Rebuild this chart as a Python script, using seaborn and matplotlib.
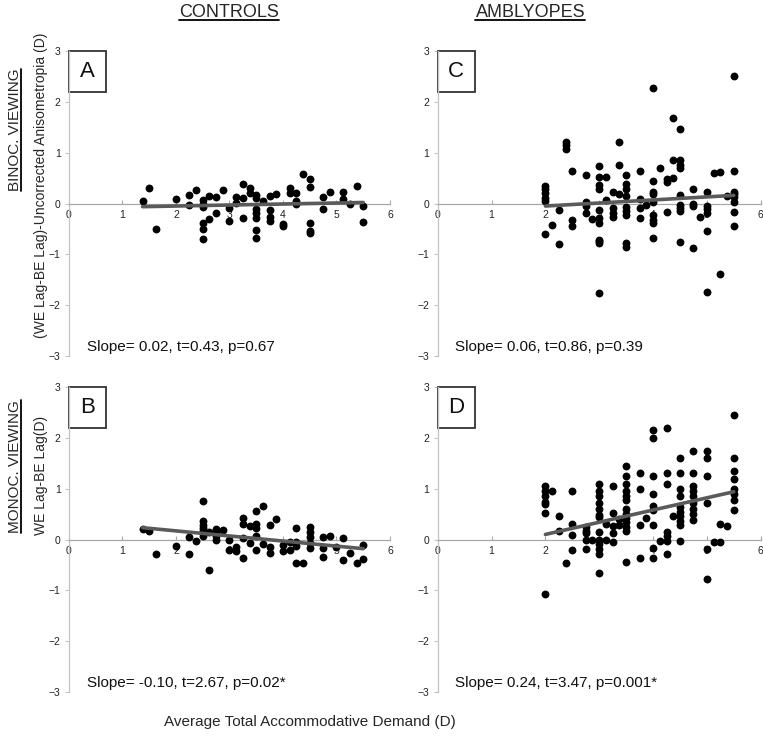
import numpy as np
import pandas as pd
import seaborn as sns
import matplotlib.pyplot as plt
from matplotlib.patches import Rectangle
from matplotlib.lines import Line2D

# ---- data ----
a_x = [1.375, 1.5, 1.625, 2.0, 2.25, 2.25, 2.375, 2.5, 2.5, 2.5, 2.5, 2.5, 2.5,
       2.625, 2.625, 2.75, 2.75, 2.875, 3.0, 3.0, 3.125, 3.125, 3.25, 3.25, 3.25,
       3.375, 3.375, 3.5, 3.5, 3.5, 3.5, 3.5, 3.5, 3.5, 3.625, 3.75, 3.75, 3.75, 3.75,
       3.875, 4.0, 4.0, 4.125, 4.125, 4.25, 4.25, 4.25, 4.375, 4.5, 4.5, 4.5, 4.5, 4.5,
       4.75, 4.75, 4.875, 5.125, 5.125, 5.25, 5.375, 5.5, 5.5]
a_y = [0.04, 0.31, -0.5, 0.08, 0.17, -0.03, 0.26, 0.06, 0.0, -0.07, -0.38, -0.51, -0.7,
       0.15, -0.31, 0.13, -0.18, 0.27, -0.08, -0.35, 0.12, 0.01, 0.38, 0.11, -0.28,
       0.31, 0.2, 0.16, 0.11, -0.1, -0.18, -0.28, -0.52, -0.68, 0.05, 0.14, -0.12, -0.27, -0.34,
       0.18, -0.41, -0.44, 0.31, 0.2, 0.2, 0.05, 0.0, 0.58, 0.49, 0.32, -0.38, -0.54, -0.59,
       0.13, -0.11, 0.23, 0.23, 0.08, -0.01, 0.34, -0.05, -0.36]

b_x = [1.375, 1.5, 1.625, 2.0, 2.25, 2.25, 2.375, 2.5, 2.5, 2.5, 2.5, 2.5, 2.5,
       2.625, 2.625, 2.75, 2.75, 2.75, 2.75, 2.875, 3.0, 3.0, 3.125, 3.125,
       3.25, 3.25, 3.25, 3.25, 3.375, 3.375, 3.5, 3.5, 3.5, 3.5, 3.5, 3.625, 3.625,
       3.75, 3.75, 3.75, 3.875, 4.0, 4.0, 4.125, 4.125, 4.25, 4.25, 4.25, 4.25, 4.375,
       4.5, 4.5, 4.5, 4.5, 4.5, 4.75, 4.75, 4.75, 4.875, 5.0, 5.125, 5.125, 5.25,
       5.375, 5.5, 5.5]
b_y = [0.21, 0.16, -0.29, -0.12, 0.05, -0.29, -0.03, 0.75, 0.36, 0.29, 0.23, 0.16, 0.07,
       0.15, -0.59, 0.2, 0.13, 0.07, -0.01, 0.18, 0.0, -0.2, -0.15, -0.22,
       0.42, 0.31, 0.03, -0.36, 0.26, -0.07, 0.56, 0.31, 0.23, 0.07, -0.21, 0.65, -0.08,
       0.29, -0.15, -0.26, 0.41, -0.1, -0.23, -0.05, -0.21, 0.22, -0.05, -0.13, -0.46, -0.46,
       0.25, 0.15, 0.05, -0.07, -0.17, 0.05, -0.16, -0.34, 0.07, -0.15, 0.03, -0.4, -0.26,
       -0.47, -0.1, -0.39]

c_x = [2.0, 2.0, 2.0, 2.0, 2.0, 2.0, 2.125, 2.25, 2.25, 2.375, 2.375, 2.375,
       2.5, 2.5, 2.5, 2.75, 2.75, 2.75, 2.75, 2.875,
       3.0, 3.0, 3.0, 3.0, 3.0, 3.0, 3.0, 3.0, 3.0, 3.0, 3.0, 3.125, 3.125,
       3.25, 3.25, 3.25, 3.25, 3.375, 3.375, 3.375,
       3.5, 3.5, 3.5, 3.5, 3.5, 3.5, 3.5, 3.5, 3.5,
       3.75, 3.75, 3.75, 3.75, 3.875,
       4.0, 4.0, 4.0, 4.0, 4.0, 4.0, 4.0, 4.0, 4.0, 4.125, 4.25, 4.25, 4.25,
       4.375, 4.375, 4.375, 4.5, 4.5, 4.5, 4.5, 4.5, 4.5, 4.5, 4.5, 4.5,
       4.75, 4.75, 4.75, 4.75, 4.875, 5.0, 5.0, 5.0, 5.0, 5.0, 5.0, 5.125, 5.25, 5.25, 5.375,
       5.5, 5.5, 5.5, 5.5, 5.5, 5.5, 5.5, 5.5]
c_y = [0.35, 0.28, 0.2, 0.1, 0.05, -0.6, -0.43, -0.13, -0.8, 1.21, 1.15, 1.08,
       0.64, -0.33, -0.45, 0.56, 0.02, -0.05, -0.18, -0.31,
       0.74, 0.52, 0.36, 0.28, -0.13, -0.28, -0.39, -0.71, -0.73, -0.78, -1.76, 0.52, 0.07,
       0.23, -0.09, -0.18, -0.26, 1.21, 0.75, 0.18,
       0.57, 0.39, 0.28, 0.15, -0.07, -0.14, -0.23, -0.78, -0.86,
       0.64, 0.09, -0.09, -0.28, -0.03,
       2.27, 0.45, 0.23, 0.18, 0.02, -0.23, -0.33, -0.39, -0.67, 0.69, 0.49, 0.43, -0.16,
       1.69, 0.85, 0.5, 1.47, 0.85, 0.75, 0.7, 0.16, -0.02, -0.09, -0.15, -0.76,
       0.28, 0.0, -0.05, -0.87, -0.26, 0.22, -0.05, -0.11, -0.18, -0.54, -1.74, 0.6, 0.61, -1.38, 0.15,
       2.5, 0.64, 0.23, 0.18, 0.12, 0.03, -0.16, -0.44]

d_x = [2.0, 2.0, 2.0, 2.0, 2.0, 2.0, 2.0, 2.125, 2.25, 2.25, 2.375,
       2.5, 2.5, 2.5, 2.5, 2.75, 2.75, 2.75, 2.75, 2.75, 2.875,
       3.0, 3.0, 3.0, 3.0, 3.0, 3.0, 3.0, 3.0, 3.0, 3.0, 3.0, 3.0, 3.0,
       3.125, 3.125, 3.25, 3.25, 3.25, 3.25, 3.25, 3.375, 3.375,
       3.5, 3.5, 3.5, 3.5, 3.5, 3.5, 3.5, 3.5, 3.5, 3.5, 3.5, 3.5, 3.5,
       3.75, 3.75, 3.75, 3.75, 3.875,
       4.0, 4.0, 4.0, 4.0, 4.0, 4.0, 4.0, 4.0, 4.0, 4.125,
       4.25, 4.25, 4.25, 4.25, 4.25, 4.25, 4.25, 4.375,
       4.5, 4.5, 4.5, 4.5, 4.5, 4.5, 4.5, 4.5, 4.5, 4.5,
       4.75, 4.75, 4.75, 4.75, 4.75, 4.75, 4.75, 4.75, 4.75,
       5.0, 5.0, 5.0, 5.0, 5.0, 5.0, 5.125, 5.25, 5.25, 5.375,
       5.5, 5.5, 5.5, 5.5, 5.5, 5.5, 5.5, 5.5]
d_y = [1.05, 0.95, 0.85, 0.74, 0.7, 0.53, -1.08, 0.95, 0.46, 0.16, -0.47,
       0.95, 0.3, 0.08, -0.21, 0.24, 0.17, 0.12, 0.0, -0.18, 0.0,
       1.1, 0.95, 0.85, 0.71, 0.61, 0.48, 0.45, 0.15, -0.01, -0.09, -0.18, -0.28, -0.66,
       0.3, 0.0, 1.05, 0.53, 0.26, 0.12, -0.05, 0.41, 0.28,
       1.45, 1.25, 1.1, 0.95, 0.85, 0.78, 0.61, 0.51, 0.43, 0.35, 0.25, 0.17, -0.44,
       1.3, 1.0, 0.28, -0.37, 0.43,
       2.15, 2.0, 1.25, 0.9, 0.66, 0.59, 0.28, -0.16, -0.36, -0.03,
       2.2, 1.3, 1.1, 0.15, 0.07, -0.03, -0.29, 0.46,
       1.6, 1.3, 1.0, 0.85, 0.64, 0.55, 0.46, 0.37, 0.28, -0.03,
       1.75, 1.3, 1.05, 0.95, 0.85, 0.71, 0.61, 0.51, 0.38,
       1.75, 1.6, 1.25, 0.71, -0.18, -0.77, -0.05, 0.3, -0.05, 0.26,
       2.45, 1.6, 1.35, 1.2, 1.0, 0.9, 0.78, 0.59]

panel_letters = ['A', 'B', 'C', 'D']
slopes = [0.02, -0.10, 0.06, 0.24]
intercepts = [-0.09, 0.37, -0.17, -0.38]
stat_texts = ['Slope= 0.02, t=0.43, p=0.67',
              'Slope= -0.10, t=2.67, p=0.02*',
              'Slope= 0.06, t=0.86, p=0.39',
              'Slope= 0.24, t=3.47, p=0.001*']
col_titles = ['CONTROLS', 'AMBLYOPES']
row_titles = ['BINOC. VIEWING', 'MONOC. VIEWING']
row_ylabels = ['(WE Lag-BE Lag)-Uncorrected Anisometropia (D)', 'WE Lag-BE Lag(D)']
xlabel = 'Average Total Accommodative Demand (D)'

sns.set_theme(style='white')
plt.rcParams['font.family'] = ['Liberation Sans', 'DejaVu Sans']

fig = plt.figure(figsize=(7.63, 7.38), dpi=100)

rects = {'A': [0.0904, 0.5176, 0.4207, 0.4133],
         'B': [0.0904, 0.0623, 0.4207, 0.4133],
         'C': [0.5737, 0.5176, 0.4233, 0.4133],
         'D': [0.5737, 0.0623, 0.4233, 0.4133]}
xs_all = [a_x, b_x, c_x, d_x]
ys_all = [a_y, b_y, c_y, d_y]

for i, letter in enumerate(panel_letters):
    ax = fig.add_axes(rects[letter])
    df = pd.DataFrame({'x': xs_all[i], 'y': ys_all[i]})
    sns.scatterplot(data=df, x='x', y='y', color='black', s=32,
                    linewidth=0, ax=ax, zorder=3)
    fx = np.array([df['x'].min(), df['x'].max()])
    sns.lineplot(x=fx, y=intercepts[i] + slopes[i] * fx, color='#5a5a5a',
                 linewidth=2.6, ax=ax, zorder=4)
    ax.set_xlim(0, 6)
    ax.set_ylim(-3, 3)
    ax.set_xticks(range(0, 7))
    ax.set_yticks(range(-3, 4))
    ax.set_xlabel('')
    ax.set_ylabel('')
    for s in ['top', 'right']:
        ax.spines[s].set_visible(False)
    ax.spines['bottom'].set_position(('data', 0))
    ax.spines['bottom'].set_color('#a8a8a8')
    ax.spines['left'].set_color('#c4c4c4')
    ax.spines['bottom'].set_linewidth(0.9)
    ax.spines['left'].set_linewidth(0.9)
    ax.tick_params(axis='x', direction='in', length=3, width=0.8, color='#a8a8a8',
                   pad=5, labelsize=7.5, labelcolor='#222222', bottom=True)
    ax.tick_params(axis='y', direction='out', length=3, width=0.8, color='#c4c4c4',
                   pad=3, labelsize=7.5, labelcolor='#222222', left=True)
    ax.patch.set_alpha(0)

    # letter box
    ax.add_patch(Rectangle((0.0, 0.865), 0.114, 0.135, transform=ax.transAxes,
                           fill=False, edgecolor='#333333', linewidth=1.3, clip_on=False))
    ax.text(0.057, 0.932, letter, transform=ax.transAxes, ha='center', va='center',
            fontsize=16, color='#111111')
    ax.text(0.33, -2.83, stat_texts[i], ha='left', va='center', fontsize=11,
            color='#111111')

title_objs = []
title_objs.append(fig.text(0.300, 0.983, col_titles[0], ha='center', va='center', fontsize=13))
title_objs.append(fig.text(0.695, 0.983, col_titles[1], ha='center', va='center', fontsize=13))
row_objs = []
row_objs.append(fig.text(0.020, 0.824, row_titles[0], ha='center', va='center',
                         rotation=90, fontsize=11))
row_objs.append(fig.text(0.020, 0.368, row_titles[1], ha='center', va='center',
                         rotation=90, fontsize=11))
fig.text(0.0537, 0.749, row_ylabels[0], ha='center', va='center', rotation=90, fontsize=10)
fig.text(0.0537, 0.356, row_ylabels[1], ha='center', va='center', rotation=90, fontsize=10)
fig.text(0.406, 0.022, xlabel, ha='center', va='center', fontsize=11)

# underline titles
fig.canvas.draw()
r = fig.canvas.get_renderer()
W, H = fig.bbox.width, fig.bbox.height
for t in title_objs:
    bb = t.get_window_extent(r)
    y = bb.y0 + 1
    fig.add_artist(Line2D([bb.x0 / W, bb.x1 / W], [y / H, y / H], color='black', lw=1.3))
for t in row_objs:
    bb = t.get_window_extent(r)
    x = bb.x1 - 1
    fig.add_artist(Line2D([x / W, x / W], [bb.y0 / H, bb.y1 / H], color='black', lw=1.3))

fig.savefig('out.png', dpi=100)
